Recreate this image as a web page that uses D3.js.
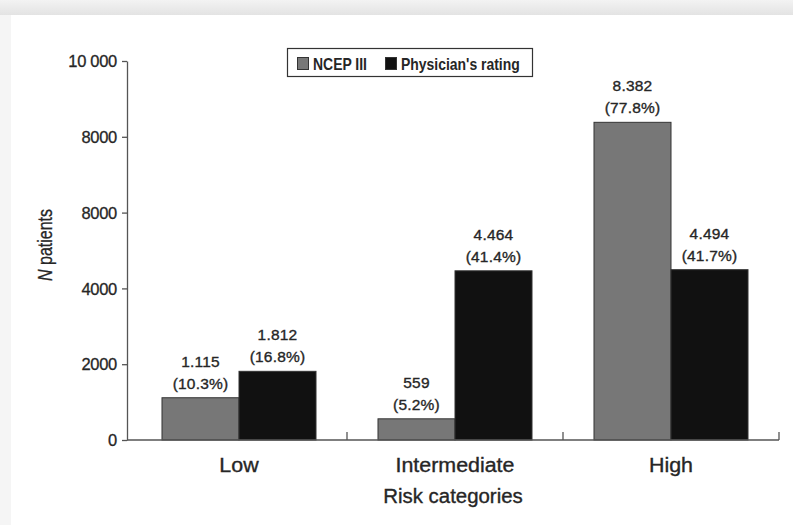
<!DOCTYPE html>
<html>
<head>
<meta charset="utf-8">
<script src="https://cdn.jsdelivr.net/npm/d3@7"></script>
<style>
  html, body { margin: 0; padding: 0; background: #f4f4f4; }
  svg { display: block; }
</style>
</head>
<body>
<svg id="chart" width="793" height="525"></svg>
<script>
// Risk categories and the two ratings compared within each
const categories = ["Low", "Intermediate", "High"];
const seriesNames = ["NCEP III", "Physician's rating"];
const ncepValues = [1115, 559, 8382];
const physicianValues = [1812, 4464, 4494];
const ncepPercents = ["10.3%", "5.2%", "77.8%"];
const physicianPercents = ["16.8%", "41.4%", "41.7%"];
const yTickValues = [0, 2000, 4000, 6000, 8000, 10000];
const yTickLabels = ["0", "2000", "4000", "8000", "8000", "10 000"];
const seriesColors = ["#777777", "#111111"];

const rows = categories.map((c, i) => ({
  category: c,
  bars: [
    { key: seriesNames[0], value: ncepValues[i], pct: ncepPercents[i] },
    { key: seriesNames[1], value: physicianValues[i], pct: physicianPercents[i] }
  ]
}));

const svg = d3.select("#chart");
const W = 793, H = 525;
const FONT = "'Liberation Sans', Arial, Helvetica, sans-serif";

// squeeze or stretch a text element horizontally relative to its natural width
function condense(sel, factor) {
  sel.each(function () {
    const len = this.getComputedTextLength();
    d3.select(this).attr("textLength", len * factor).attr("lengthAdjust", "spacingAndGlyphs");
  });
}

// page background: grey strip on top, white sheet below
const defs = svg.append("defs");
const grad = defs.append("linearGradient").attr("id", "topband")
  .attr("x1", 0).attr("y1", 0).attr("x2", 0).attr("y2", 1);
grad.append("stop").attr("offset", "0%").attr("stop-color", "#f3f3f3");
grad.append("stop").attr("offset", "100%").attr("stop-color", "#e3e3e3");
svg.append("rect").attr("x", 0).attr("y", 0).attr("width", W).attr("height", H).attr("fill", "#f5f5f5");
svg.append("rect").attr("x", 0).attr("y", 0).attr("width", W).attr("height", 15).attr("fill", "url(#topband)");
svg.append("rect").attr("x", 11).attr("y", 15).attr("width", W - 11).attr("height", H - 15).attr("fill", "#ffffff");

const axisX0 = 127, axisX1 = 779;
const yTop = 61, yBottom = 440;

const x0 = d3.scaleBand().domain(categories).range([131, 779])
  .paddingInner(0.287).paddingOuter(0.1435);
const x1 = d3.scaleBand().domain(seriesNames).range([0, x0.bandwidth()]).padding(0);
const y = d3.scaleLinear().domain([0, 10000]).range([yBottom, yTop]);
const color = d3.scaleOrdinal().domain(seriesNames).range(seriesColors);

const valueFmt = d3.formatLocale({ decimal: ",", thousands: ".", grouping: [3], currency: ["", ""] }).format(",d");

const textColor = "#262626";
const axisColor = "#555555";

// bars
const groups = svg.append("g").selectAll("g").data(rows).join("g")
  .attr("transform", d => `translate(${x0(d.category)},0)`);

groups.selectAll("rect").data(d => d.bars).join("rect")
  .attr("x", d => x1(d.key))
  .attr("y", d => y(d.value))
  .attr("width", x1.bandwidth())
  .attr("height", d => y(0) - y(d.value))
  .attr("fill", d => color(d.key))
  .attr("stroke", "#333")
  .attr("stroke-width", 1);

// value labels above bars
const lab = groups.selectAll("text.val").data(d => d.bars).join("text")
  .attr("class", "val")
  .attr("text-anchor", "middle")
  .attr("font-family", FONT)
  .attr("font-size", 15.5)
  .attr("letter-spacing", 0.2)
  .attr("fill", textColor)
  .attr("stroke", textColor).attr("stroke-width", 0.35);
lab.append("tspan")
  .attr("x", d => x1(d.key) + x1.bandwidth() / 2)
  .attr("y", d => y(d.value) - 31)
  .text(d => valueFmt(d.value));
lab.append("tspan")
  .attr("x", d => x1(d.key) + x1.bandwidth() / 2)
  .attr("y", d => y(d.value) - 9)
  .text(d => `(${d.pct})`);

// y axis
const yAxis = d3.axisLeft(y).tickValues(yTickValues)
  .tickFormat((d, i) => yTickLabels[i]).tickSize(5).tickSizeOuter(0);
const gy = svg.append("g").attr("transform", `translate(${axisX0},0)`).call(yAxis);
gy.select(".domain").attr("stroke", axisColor).attr("stroke-width", 1.3);
gy.selectAll(".tick line").attr("stroke", axisColor).attr("stroke-width", 1.3);
gy.selectAll(".tick text")
  .attr("font-family", FONT)
  .attr("font-size", 16.5).attr("letter-spacing", -0.3)
  .attr("fill", textColor).attr("stroke", textColor).attr("stroke-width", 0.3)
  .attr("x", -10).attr("dy", "0.35em");

// x axis with upward ticks at category boundaries
svg.append("line").attr("x1", axisX0).attr("x2", axisX1)
  .attr("y1", yBottom).attr("y2", yBottom)
  .attr("stroke", axisColor).attr("stroke-width", 1.3);
const boundaries = categories.map((c, i) => x0.range()[0] + x0.step() * (i + 1));
svg.append("g").selectAll("line").data(boundaries).join("line")
  .attr("x1", d => d).attr("x2", d => d)
  .attr("y1", yBottom).attr("y2", yBottom - 8)
  .attr("stroke", axisColor).attr("stroke-width", 1.3);

// category labels
const catText = svg.append("g").selectAll("text").data(categories).join("text")
  .attr("x", d => x0(d) + x0.bandwidth() / 2)
  .attr("y", 472)
  .attr("text-anchor", "middle")
  .attr("font-family", FONT)
  .attr("font-size", 20)
  .attr("fill", textColor).attr("stroke", textColor).attr("stroke-width", 0.35)
  .text(d => d);
condense(catText, 1.07);

// axis titles
const xTitle = svg.append("text")
  .attr("x", 453).attr("y", 503)
  .attr("text-anchor", "middle")
  .attr("font-family", FONT)
  .attr("font-size", 20)
  .attr("fill", textColor).attr("stroke", textColor).attr("stroke-width", 0.35)
  .text("Risk categories");
condense(xTitle, 1.02);

const yTitle = svg.append("text")
  .attr("transform", "translate(52,245) rotate(-90)")
  .attr("text-anchor", "middle")
  .attr("font-family", FONT)
  .attr("font-size", 20)
  .attr("fill", textColor).attr("stroke", textColor).attr("stroke-width", 0.3);
yTitle.append("tspan").attr("font-style", "italic").text("N");
yTitle.append("tspan").text(" patients");
condense(yTitle, 0.8);

// legend
const legend = svg.append("g");
legend.append("rect").attr("x", 287.5).attr("y", 48.5).attr("width", 245).attr("height", 28)
  .attr("fill", "#fff").attr("stroke", "#333").attr("stroke-width", 1.2);
const legendX = [297, 385];
const li = legend.selectAll("g").data(seriesNames).join("g")
  .attr("transform", (d, i) => `translate(${legendX[i]},57)`);
li.append("rect").attr("x", 0.5).attr("y", 0.5).attr("width", 11).attr("height", 12)
  .attr("fill", d => color(d)).attr("stroke", "#333").attr("stroke-width", 1);
const legText = li.append("text").attr("x", 16).attr("y", 12.5)
  .attr("font-family", FONT)
  .attr("font-weight", "bold").attr("font-size", 17)
  .attr("fill", textColor)
  .text(d => d);
condense(legText, 0.82);
</script>
</body>
</html>
